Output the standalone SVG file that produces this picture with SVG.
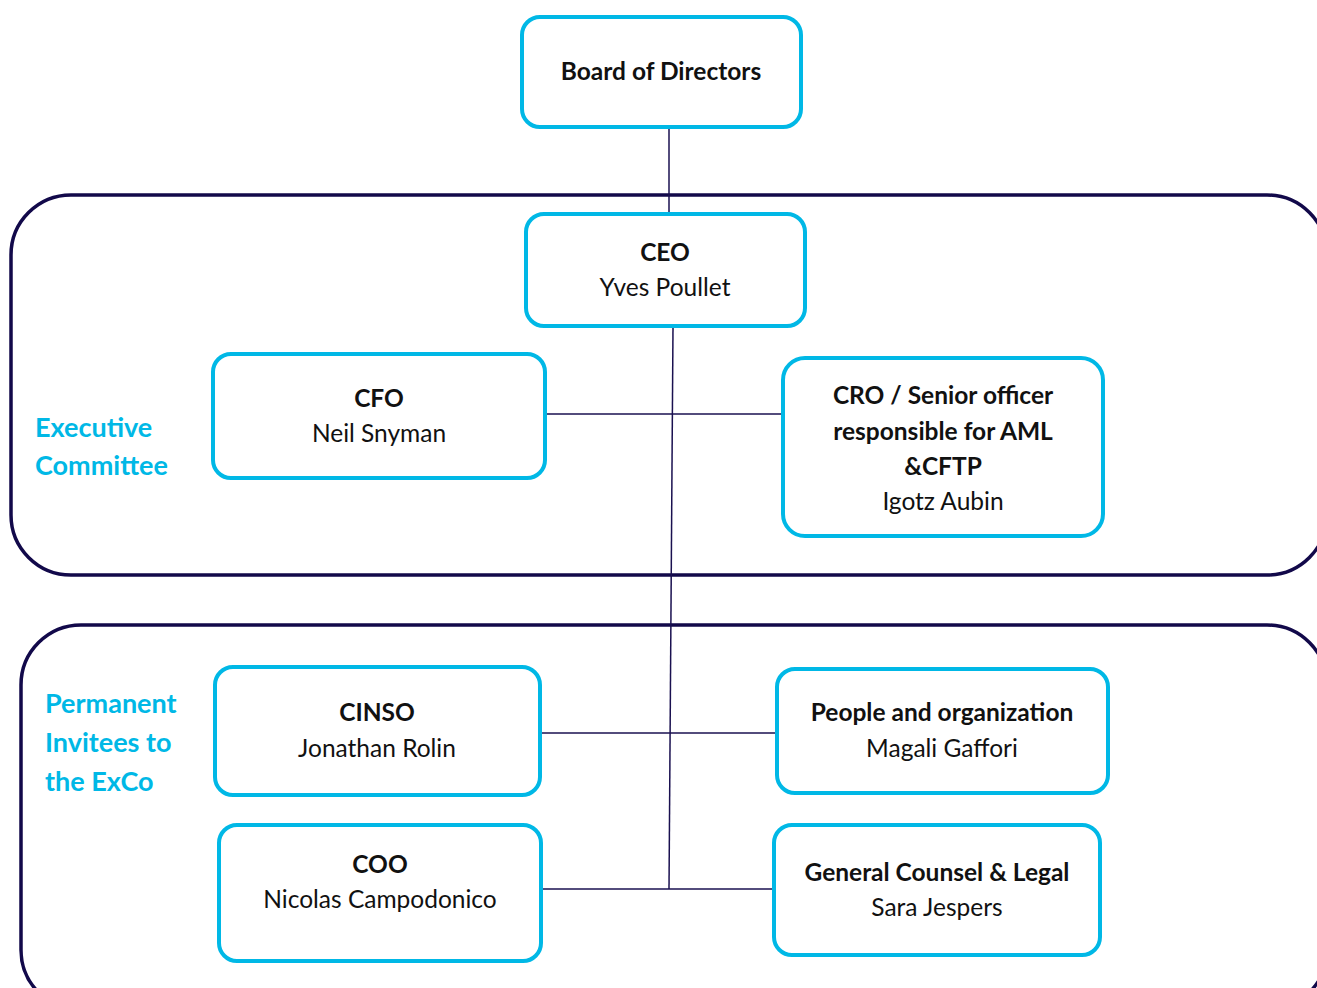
<svg xmlns="http://www.w3.org/2000/svg" width="1317" height="988" viewBox="0 0 1317 988">
<style>
.box{fill:#fff;stroke:#00B8E6;stroke-width:4}
.grp{fill:none;stroke:#12094a;stroke-width:3.5}
.ln{stroke:#1a1050;stroke-width:1.5;fill:none}
.t{font-family:Lato,"Liberation Sans",sans-serif;font-size:24.5px;fill:#111;text-anchor:middle}
.b{font-weight:bold}
.lbl{font-family:Lato,"Liberation Sans",sans-serif;font-size:27px;font-weight:bold;fill:#00B8E6}
</style>
<rect width="1317" height="988" fill="#fff"/>
<g id="executive-committee">
<rect class="grp" x="11" y="195" width="1316" height="380" rx="60"/>
<text class="lbl" x="35" y="437">Executive</text>
<text class="lbl" x="35" y="475">Committee</text>
</g>
<g id="permanent-invitees">
<rect class="grp" x="21" y="625" width="1306" height="385" rx="60"/>
<text class="lbl" x="45" y="713">Permanent</text>
<text class="lbl" x="45" y="752">Invitees to</text>
<text class="lbl" x="45" y="791">the ExCo</text>
</g>
<g id="connectors">
<line class="ln" x1="669" y1="127" x2="669" y2="214"/>
<line class="ln" x1="673" y1="327" x2="669" y2="889"/>
<line class="ln" x1="541" y1="414" x2="783" y2="414"/>
<line class="ln" x1="535" y1="733" x2="777" y2="733"/>
<line class="ln" x1="537" y1="889" x2="774" y2="889"/>
</g>
<g id="board">
<rect class="box" x="522" y="17" width="279" height="110" rx="18"/>
<text class="t b" x="661" y="80">Board of Directors</text>
</g>
<g id="ceo">
<rect class="box" x="526" y="214" width="279" height="112" rx="18"/>
<text class="t b" x="665" y="261">CEO</text>
<text class="t" x="665" y="296">Yves Poullet</text>
</g>
<g id="cfo">
<rect class="box" x="213" y="354" width="332" height="124" rx="18"/>
<text class="t b" x="379" y="407">CFO</text>
<text class="t" x="379" y="442">Neil Snyman</text>
</g>
<g id="cro">
<rect class="box" x="783" y="358" width="320" height="178" rx="22"/>
<text class="t b" x="943" y="404">CRO / Senior officer</text>
<text class="t b" x="943" y="440">responsible for AML</text>
<text class="t b" x="943" y="475">&amp;CFTP</text>
<text class="t" x="943" y="510">Igotz Aubin</text>
</g>
<g id="cinso">
<rect class="box" x="215" y="667" width="325" height="128" rx="18"/>
<text class="t b" x="377" y="721">CINSO</text>
<text class="t" x="377" y="757">Jonathan Rolin</text>
</g>
<g id="people">
<rect class="box" x="777" y="669" width="331" height="124" rx="18"/>
<text class="t b" x="942" y="721">People and organization</text>
<text class="t" x="942" y="757">Magali Gaffori</text>
</g>
<g id="coo">
<rect class="box" x="219" y="825" width="322" height="136" rx="18"/>
<text class="t b" x="380" y="873">COO</text>
<text class="t" x="380" y="908">Nicolas Campodonico</text>
</g>
<g id="legal">
<rect class="box" x="774" y="825" width="326" height="130" rx="18"/>
<text class="t b" x="937" y="881">General Counsel &amp; Legal</text>
<text class="t" x="937" y="916">Sara Jespers</text>
</g>
</svg>
